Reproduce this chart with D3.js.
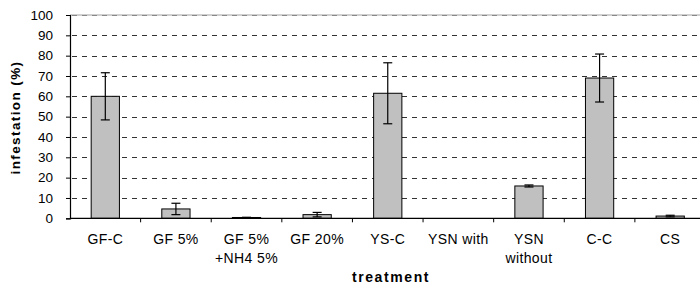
<!DOCTYPE html>
<html>
<head>
<meta charset="utf-8">
<script src="https://cdn.jsdelivr.net/npm/d3@7"></script>
<style>
  body { margin: 0; background: #fff; }
  svg { display: block; font-family: "Liberation Sans", Arial, sans-serif; }
</style>
</head>
<body>
<svg id="chart" width="700" height="285"></svg>
<script>
// chart values
const treatments = [["GF-C"], ["GF 5%"], ["GF 5%", "+NH4 5%"], ["GF 20%"], ["YS-C"], ["YSN with"], ["YSN", "without"], ["C-C"], ["CS"]];
const infestation = [60, 4.6, 0.4, 1.8, 61.5, 0, 15.9, 69, 1.1];
const errors = [11.6, 2.8, 0.1, 1.1, 15, 0, 0.5, 11.8, 0.4];
const yTicks = [0, 10, 20, 30, 40, 50, 60, 70, 80, 90, 100];

const svg = d3.select("#chart"),
    margin = {top: 15, left: 70},
    plotRight = 705.5,
    plotBottom = 218.3;

const keys = treatments.map(t => t.join(" "));

const x = d3.scaleBand()
    .domain(keys)
    .range([margin.left, plotRight])
    .paddingInner(0.6)
    .paddingOuter(0.3);

const y = d3.scaleLinear()
    .domain([0, 100])
    .range([plotBottom, margin.top]);

// gridlines
const grid = svg.append("g");
grid.append("line")
    .attr("x1", margin.left).attr("x2", plotRight)
    .attr("y1", y(100)).attr("y2", y(100))
    .attr("stroke", "#c0c0c0").attr("stroke-width", 1.5);
grid.selectAll("line.g")
    .data(yTicks.filter(d => d > 0))
    .enter().append("line")
    .attr("class", "g")
    .attr("x1", margin.left + 2).attr("x2", plotRight)
    .attr("y1", d => Math.round(y(d)) + 0.5).attr("y2", d => Math.round(y(d)) + 0.5)
    .attr("stroke", d => d == 100 ? "#888" : "#333")
    .attr("stroke-dasharray", "5,5");

// bars
svg.append("g").selectAll("rect")
    .data(infestation)
    .enter().append("rect")
    .attr("x", (d, i) => x(keys[i]))
    .attr("y", d => y(d))
    .attr("width", x.bandwidth())
    .attr("height", d => plotBottom - y(d))
    .attr("fill", "#c0c0c0")
    .attr("stroke", "#000")
    .attr("stroke-width", 1);

// error bars
const eb = svg.append("g").attr("stroke", "#000").attr("stroke-width", 1.2);
infestation.forEach((v, i) => {
    const e = errors[i];
    if (e <= 0) return;
    const cx = x(keys[i]) + x.bandwidth() / 2;
    eb.append("line").attr("x1", cx).attr("x2", cx).attr("y1", y(v - e)).attr("y2", y(v + e));
    eb.append("line").attr("x1", cx - 4.5).attr("x2", cx + 4.5).attr("y1", y(v + e)).attr("y2", y(v + e));
    eb.append("line").attr("x1", cx - 4.5).attr("x2", cx + 4.5).attr("y1", y(v - e)).attr("y2", y(v - e));
});

// y axis
const yAxis = svg.append("g")
    .attr("transform", "translate(" + margin.left + ",0)")
    .call(d3.axisLeft(y).tickValues(yTicks).tickSize(4).tickPadding(13));
yAxis.select(".domain").attr("stroke", "#000").attr("stroke-width", 1.2);
yAxis.selectAll("text").attr("font-size", 13.5).attr("fill", "#000").attr("font-family", "Liberation Sans, Arial, sans-serif");

// x axis: ticks between categories
const xAxis = svg.append("g");
xAxis.append("line")
    .attr("x1", margin.left).attr("x2", plotRight)
    .attr("y1", plotBottom).attr("y2", plotBottom)
    .attr("stroke", "#000").attr("stroke-width", 1.2);
const step = x.step();
xAxis.selectAll("line.t")
    .data(d3.range(1, keys.length + 1))
    .enter().append("line")
    .attr("class", "t")
    .attr("x1", i => x(keys[0]) - x.paddingOuter() * step + i * step)
    .attr("x2", i => x(keys[0]) - x.paddingOuter() * step + i * step)
    .attr("y1", plotBottom).attr("y2", plotBottom + 4)
    .attr("stroke", "#000");

const labels = svg.append("g").attr("font-size", 14).attr("letter-spacing", 0.4).attr("text-anchor", "middle");
treatments.forEach((t, i) => {
    const cx = x(keys[i]) + x.bandwidth() / 2;
    const txt = labels.append("text")
        .attr("x", cx)
        .attr("y", 244);
    t.forEach((line, j) => {
        txt.append("tspan")
            .attr("x", cx)
            .attr("dy", j == 0 ? 0 : 19)
            .text(line);
    });
});

// axis titles
svg.append("text")
    .attr("x", 391).attr("y", 282)
    .attr("text-anchor", "middle")
    .attr("font-size", 14).attr("font-weight", "bold")
    .attr("letter-spacing", 1.6)
    .text("treatment");

svg.append("text")
    .attr("transform", "translate(19.5," + 117.5 + ") rotate(-90)")
    .attr("text-anchor", "middle")
    .attr("font-size", 13.5).attr("font-weight", "bold")
    .attr("letter-spacing", 1.4)
    .text("infestation (%)");
</script>
</body>
</html>
